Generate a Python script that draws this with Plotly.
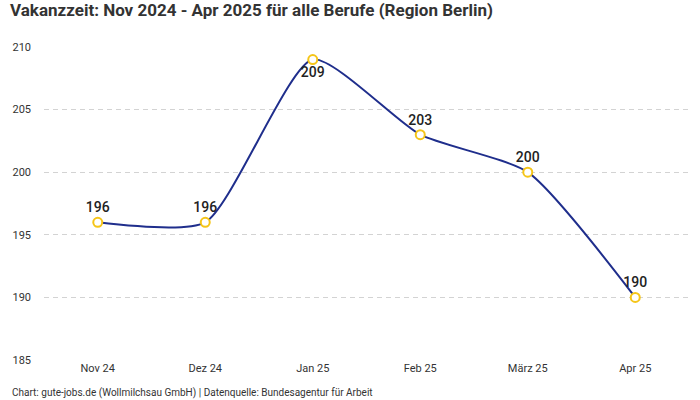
import plotly.graph_objects as go

months = ["Nov 24", "Dez 24", "Jan 25", "Feb 25", "März 25", "Apr 25"]
values = [196, 196, 209, 203, 200, 190]
label_pos = ["top center", "top center", "bottom center", "top center", "top center", "top center"]

fig = go.Figure()
fig.add_trace(go.Scatter(
    x=months, y=values,
    mode="lines+markers+text",
    line=dict(color="#1f2e8c", width=2, shape="spline", smoothing=0.6),
    marker=dict(size=9, color="white", line=dict(color="#f5c518", width=2)),
    text=[str(v) for v in values],
    textposition=label_pos,
    textfont=dict(size=14, color="#222", family="Roboto", weight=500),
    cliponaxis=False,
    hoverinfo="skip",
))

fig.update_layout(
    width=700, height=400,
    margin=dict(l=44, r=11, t=47, b=40),
    paper_bgcolor="white", plot_bgcolor="white",
    showlegend=False,
    font=dict(family="Roboto", color="#333"),
    title=dict(text="<b>Vakanzzeit: Nov 2024 - Apr 2025 für alle Berufe (Region Berlin)</b>",
               x=0.0143, xanchor="left", y=0.975, yanchor="middle",
               font=dict(size=17, color="#333", family="Roboto")),
    annotations=[dict(text="Chart: gute-jobs.de (Wollmilchsau GmbH) | Datenquelle: Bundesagentur für Arbeit",
                      xref="paper", yref="paper", x=-0.0527, y=-0.105, xanchor="left", yanchor="middle",
                      showarrow=False, font=dict(size=10, color="#333"))],
)
fig.update_xaxes(range=[-0.5, 5.5], showgrid=False, showline=False, ticks="",
                 tickfont=dict(size=11, color="#333"), fixedrange=True)
fig.update_yaxes(range=[185, 210], tickvals=[185, 190, 195, 200, 205, 210],
                 showgrid=True, gridcolor="#d3d3d3", griddash="5px,4px", gridwidth=1,
                 zeroline=False, showline=False, ticks="", ticklabelstandoff=12,
                 tickfont=dict(size=11, color="#333"), fixedrange=True)

fig.write_html("out.html", config={"displayModeBar": False, "staticPlot": True},
               post_script="document.body.style.margin='0';")
